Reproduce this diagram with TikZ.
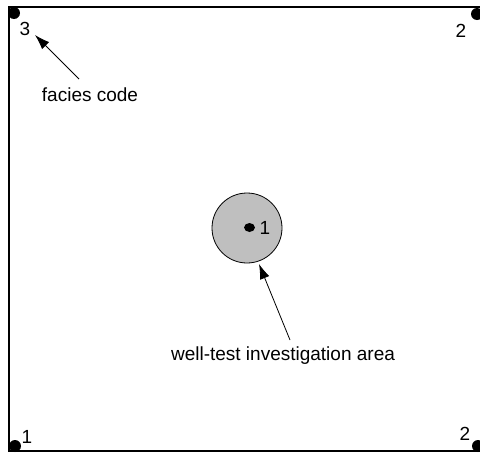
\documentclass[tikz,border=0pt]{standalone}
\usepackage{fontspec}
\setmainfont{Liberation Sans}
\usetikzlibrary{arrows.meta}

\begin{document}
\begin{tikzpicture}[x=1pt, y=-1pt,
    lbl/.style={inner sep=0pt, anchor=base, font=\fontsize{19}{22}\selectfont},
    pointer/.style={-{Latex[length=15pt,width=10pt]}, line width=0.8pt}]
      \def\dotsize{6}
      \useasboundingbox (0,0) rectangle (480,453);

      % frame of the model
      \draw[line width=2.2pt] (9,7) rectangle (483,451);

      % wells at the corners
      \fill (14,13) circle (\dotsize);
      \fill (477,14) circle (\dotsize);
      \fill (15,446) circle (\dotsize);
      \fill (478,446) circle (\dotsize);
      \node[lbl] (codeNW) at (25,35) {3};
      \node[lbl] (codeNE) at (461,37) {2};
      \node[lbl] (codeSW) at (27,443) {1};
      \node[lbl] (codeSE) at (465,440) {2};

      % tested well
      \draw[fill=black!25, line width=0.8pt] (247,228) circle (35);
      \fill (249.5,227.5) ellipse (5.5 and 4.5);
      \node[lbl] (codeC) at (265,234) {1};

      % annotations
      \node[lbl] (facies) at (90,101) {facies code};
      \node[lbl] (wtarea) at (283,360) {well-test investigation area};
      \coordinate (faciesTail) at (79,79);
      \coordinate (faciesTip) at (35,35);
      \coordinate (wtTail) at (290,340);
      \coordinate (wtTip) at (259,264);
      \draw[pointer] (faciesTail) -- (faciesTip);
      \draw[pointer] (wtTail) -- (wtTip);

    \end{tikzpicture}
\end{document}
